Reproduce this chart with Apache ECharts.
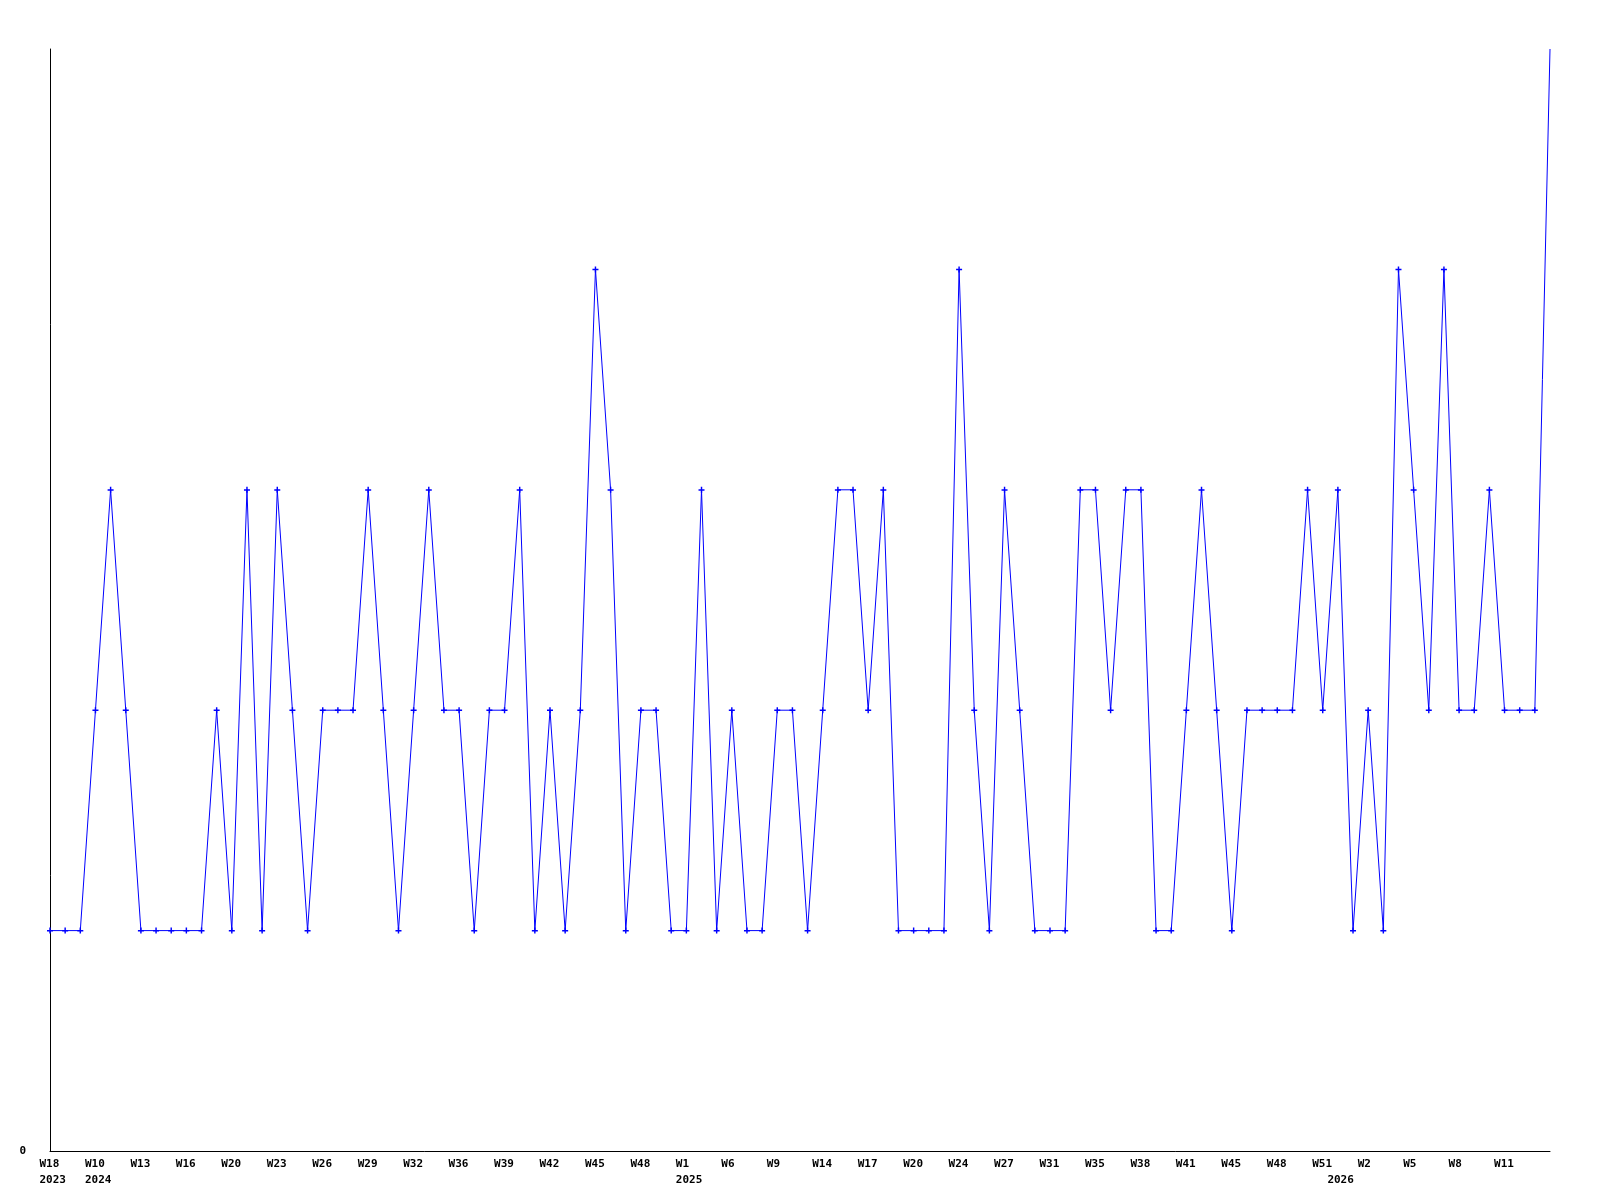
<!DOCTYPE html>
<html>
<head>
<meta charset="utf-8">
<script src="https://cdn.jsdelivr.net/npm/echarts@6/dist/echarts.min.js"></script>
<style>
html,body{margin:0;padding:0;background:#fff;}
#chart{width:1600px;height:1200px;}
</style>
</head>
<body>
<div id="chart"></div>
<script>
// Week categories (year-week); every third one is labelled on the axis
var weeks = [
 "2023-W18","2023-W20","2023-W22",
 "2024-W10","2024-W11","2024-W12",
 "2024-W13","2024-W14","2024-W15",
 "2024-W16","2024-W17","2024-W19",
 "2024-W20","2024-W21","2024-W22",
 "2024-W23","2024-W24","2024-W25",
 "2024-W26","2024-W27","2024-W28",
 "2024-W29","2024-W30","2024-W31",
 "2024-W32","2024-W33","2024-W35",
 "2024-W36","2024-W37","2024-W38",
 "2024-W39","2024-W40","2024-W41",
 "2024-W42","2024-W43","2024-W44",
 "2024-W45","2024-W46","2024-W47",
 "2024-W48","2024-W49","2024-W51",
 "2025-W1","2025-W3","2025-W4",
 "2025-W6","2025-W7","2025-W8",
 "2025-W9","2025-W10","2025-W12",
 "2025-W14","2025-W15","2025-W16",
 "2025-W17","2025-W18","2025-W19",
 "2025-W20","2025-W21","2025-W22",
 "2025-W24","2025-W25","2025-W26",
 "2025-W27","2025-W28","2025-W30",
 "2025-W31","2025-W32","2025-W33",
 "2025-W35","2025-W36","2025-W37",
 "2025-W38","2025-W39","2025-W40",
 "2025-W41","2025-W42","2025-W43",
 "2025-W45","2025-W46","2025-W47",
 "2025-W48","2025-W49","2025-W50",
 "2025-W51","2026-W0","2026-W1",
 "2026-W2","2026-W3","2026-W4",
 "2026-W5","2026-W6","2026-W7",
 "2026-W8","2026-W9","2026-W10",
 "2026-W11","2026-W12","2026-W13","2026-W14"
];

var counts = [
 1,1,1, 2,3,2, 1,1,1, 1,1,2, 1,3,1, 3,2,1, 2,2,2, 3,2,1, 2,3,2,
 2,1,2, 2,3,1, 2,1,2, 4,3,1, 2,2,1, 1,3,1, 2,1,1, 2,2,1, 2,3,3,
 2,3,1, 1,1,1, 4,2,1, 3,2,1, 1,1,3, 3,2,3, 3,1,1, 2,3,2, 1,2,2,
 2,2,3, 2,3,1, 2,1,4, 3,2,4, 2,2,3, 2,2,2, 5
];

var yMax = 5;

var chart = echarts.init(document.getElementById('chart'), null, {renderer:'canvas'});
var FONT = 'DejaVu Sans Mono';

function yearOf(i){ return weeks[i].split('-')[0]; }
function weekOf(i){ return weeks[i].split('-')[1]; }

var seriesData = counts.map(function(v, i){
  return i === counts.length - 1 ? {value: v, symbol: 'none'} : v;
});

var labelBase = {
  align: 'left',
  padding: [0, 0, 0, -10.5],
  fontFamily: FONT,
  fontWeight: 'bold',
  fontSize: 11,
  lineHeight: 16,
  color: '#000000'
};

chart.setOption({
  animation: false,
  backgroundColor: '#ffffff',
  grid: {left: 50, right: 50, top: 49, bottom: 49, containLabel: false},
  xAxis: [{
    type: 'category',
    data: weeks,
    boundaryGap: false,
    axisLine: {show: true, lineStyle: {color: '#000000', width: 1}},
    axisTick: {show: false},
    splitLine: {show: false},
    axisLabel: Object.assign({}, labelBase, {
      margin: 5,
      interval: function(index){ return index % 3 === 0 && index < weeks.length - 1; },
      formatter: function(value, index){ return weekOf(index); }
    })
  }, {
    type: 'category',
    data: weeks,
    position: 'bottom',
    boundaryGap: false,
    axisLine: {show: false},
    axisTick: {show: false},
    splitLine: {show: false},
    axisLabel: Object.assign({}, labelBase, {
      margin: 21,
      interval: function(index){ return index === 0 || yearOf(index) !== yearOf(index - 1); },
      formatter: function(value, index){ return yearOf(index); }
    })
  }],
  yAxis: {
    type: 'value',
    min: 0,
    max: yMax,
    interval: 1,
    axisLine: {show: true, lineStyle: {color: '#000000', width: 1}},
    axisTick: {show: false},
    splitLine: {show: false},
    axisLabel: {
      margin: 24,
      fontFamily: FONT,
      fontWeight: 'bold',
      fontSize: 11,
      color: '#000000',
      formatter: function(v){ return v === 0 ? '0' : ''; }
    }
  },
  series: [{
    type: 'line',
    xAxisIndex: 0,
    data: seriesData,
    symbol: 'path://M0,2H5V3.2H0Z M1.9,0H3.1V5H1.9Z',
    symbolSize: 6,
    showAllSymbol: true,
    lineStyle: {color: '#0000ff', width: 1},
    itemStyle: {color: '#0000ff'},
    emphasis: {disabled: true}
  }]
});
</script>
</body>
</html>
